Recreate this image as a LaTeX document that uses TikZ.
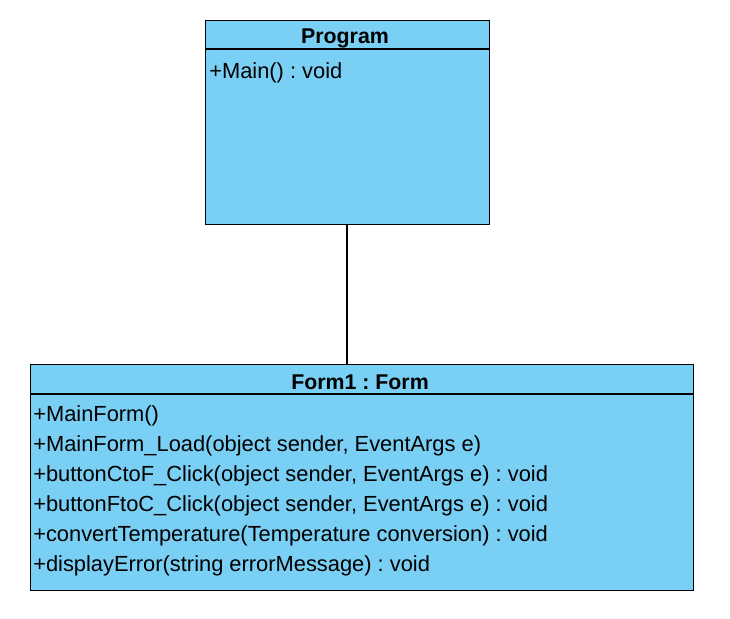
\documentclass[tikz,border=0pt]{standalone}
\usepackage{fontspec}
\setmainfont{Liberation Sans}
\frenchspacing
\definecolor{umlblue}{RGB}{122,207,244}
\begin{document}
\begin{tikzpicture}[x=0.75pt,y=-0.75pt,
  classbox/.style={draw=black,line width=0.9pt,fill=umlblue,rectangle,inner sep=0pt,anchor=north west},
  title/.style={font=\bfseries\fontsize{16pt}{18pt}\selectfont,anchor=center,inner sep=0pt},
  member/.style={font=\fontsize{16.4pt}{18pt}\selectfont,anchor=west,inner sep=0pt},
  divider/.style={draw=black,line width=0.9pt},
  link/.style={draw=black,line width=0.9pt}]
\useasboundingbox (0,0) rectangle (730,618);
% Program
\node[classbox,minimum width=284*0.75pt,minimum height=204*0.75pt] (prog) at (205,20) {};
\draw[divider] (205,49) -- (489,49);
\node[title] (progt) at (345,38) {Program};
\node[member] (pm1) at (209,73) {+Main() : void};
% Form1
\node[classbox,minimum width=663*0.75pt,minimum height=226*0.75pt] (form) at (30,364) {};
\draw[divider] (30,394) -- (693,394);
\node[title] (formt) at (360,382) {Form1 : Form};
\node[member] (f1) at (33,416) {+MainForm()};
\node[member] (f2) at (33,446) {+MainForm\_Load(object sender, EventArgs e)};
\node[member] (f3) at (33,476) {+buttonCtoF\_Click(object sender, EventArgs e) : void};
\node[member] (f4) at (33,506) {+buttonFtoC\_Click(object sender, EventArgs e) : void};
\node[member] (f5) at (33,536) {+convertTemperature(Temperature conversion) : void};
\node[member] (f6) at (33,566) {+displayError(string errorMessage) : void};
% connector
\draw[link] (prog.south -| 347,0) -- (form.north -| 347,0);
\end{tikzpicture}
\end{document}
